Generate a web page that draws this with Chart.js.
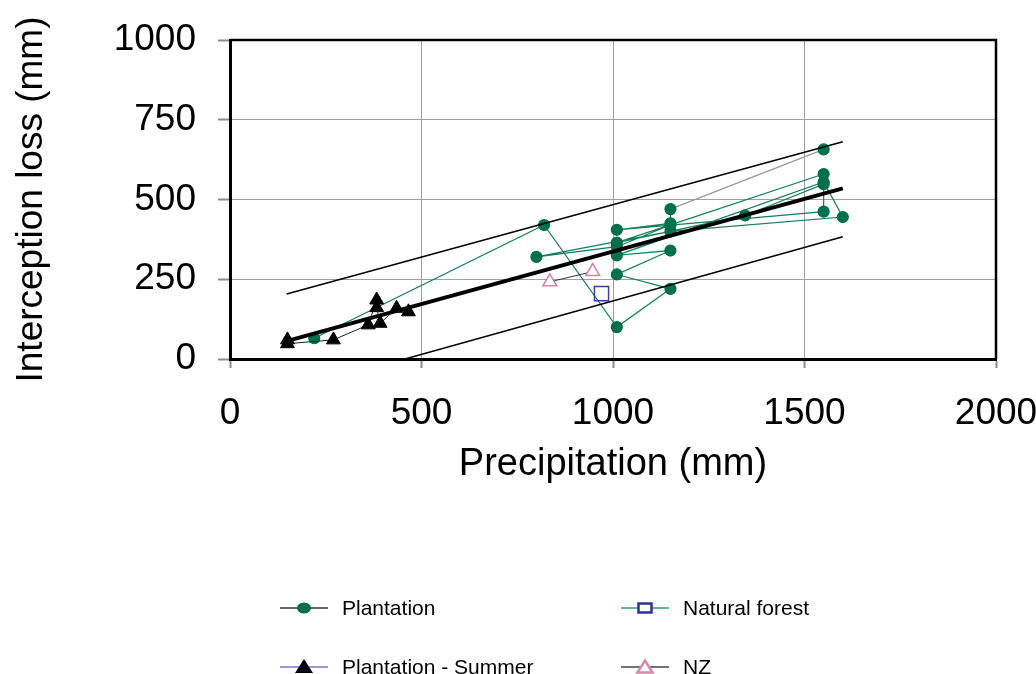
<!DOCTYPE html>
<html>
<head>
<meta charset="utf-8">
<script src="https://cdn.jsdelivr.net/npm/chart.js@4.4.1/dist/chart.umd.min.js"></script>
<style>
    body { margin: 0; background: #fff; font-family: 'Liberation Sans', Arial, sans-serif; }
    #wrap { position: relative; width: 1036px; height: 674px; }
    .item { position: absolute; display: flex; align-items: center; font-size: 21px; color: #000; white-space: nowrap; }
    .item svg { margin-right: 12px; }
</style>
</head>
<body>
<div id="wrap">
    <canvas id="myChart" width="1036" height="674"></canvas>
    <div id="legend"></div>
</div>
<script>
// precipitation (mm) vs interception loss (mm)
const plantationX = [220, 820, 1010, 1150, 1010, 1150, 1010, 1550, 1600, 1150, 800, 1010, 1150, 1550, 1010, 1345, 1550, 1550, 1010, 1150, 1150, 1550];
const plantationY = [65, 420, 100, 220, 265, 340, 325, 555, 445, 400, 320, 352, 420, 580, 365, 450, 548, 462, 405, 425, 470, 657];

const summerX = [150, 150, 270, 361, 383, 383, 392, 435, 466];
const summerY = [60, 48, 60, 107, 185, 161, 112, 159, 148];

const naturalX = [970];
const naturalY = [205];

const nzX = [835, 947];
const nzY = [242, 274];

// regression line and its band
const fitX = [150, 1600];
const fitY = [57, 535];
const upperX = [148, 1600];
const upperY = [204, 681];
const lowerX = [457, 1600];
const lowerY = [0, 383];

const seriesNames = ['Plantation', 'Natural forest', 'Plantation - Summer', 'NZ'];

const xTicks = [0, 500, 1000, 1500, 2000];
const yTicks = [0, 250, 500, 750, 1000];

function toPoints(xs, ys) {
    return xs.map((x, i) => ({ x: x, y: ys[i] }));
}

const FONT = "'Liberation Sans', Arial, sans-serif";

// black frame on top and right of the plot area
const framePlugin = {
    id: 'frame',
    beforeDatasetsDraw(chart) {
        const { ctx, chartArea: a } = chart;
        ctx.save();
        ctx.strokeStyle = '#000';
        ctx.lineWidth = 2.5;
        ctx.beginPath();
        ctx.moveTo(a.left, a.top);
        ctx.lineTo(a.right, a.top);
        ctx.lineTo(a.right, a.bottom);
        ctx.stroke();
        ctx.restore();
    },
};

const lastIdx = plantationX.length - 1;

const ctx = document.getElementById('myChart').getContext('2d');
new Chart(ctx, {
    type: 'scatter',
    data: {
        datasets: [
            {
                label: seriesNames[2],
                data: toPoints(summerX, summerY),
                showLine: true,
                borderColor: '#222',
                borderWidth: 1,
                pointStyle: 'triangle',
                pointRadius: 8,
                pointBackgroundColor: '#000',
                pointBorderColor: '#000',
            },
            {
                label: 'fit',
                data: toPoints(fitX, fitY),
                showLine: true,
                borderColor: '#000',
                borderWidth: 4,
                pointRadius: 0,
            },
            {
                label: 'upper',
                data: toPoints(upperX, upperY),
                showLine: true,
                borderColor: '#000',
                borderWidth: 1.5,
                pointRadius: 0,
            },
            {
                label: 'lower',
                data: toPoints(lowerX, lowerY),
                showLine: true,
                borderColor: '#000',
                borderWidth: 1.5,
                pointRadius: 0,
            },
            {
                label: seriesNames[3],
                data: toPoints(nzX, nzY),
                showLine: true,
                borderColor: '#333',
                borderWidth: 1,
                pointStyle: 'triangle',
                pointRadius: 8,
                pointBackgroundColor: '#fff',
                pointBorderColor: '#d9849f',
                pointBorderWidth: 1.5,
            },
            {
                label: seriesNames[1],
                data: toPoints(naturalX, naturalY),
                showLine: false,
                pointStyle: 'rect',
                pointRadius: 10,
                pointBackgroundColor: 'rgba(255,255,255,0)',
                pointBorderColor: '#3b3fa0',
                pointBorderWidth: 1.5,
            },
            {
                label: seriesNames[0],
                data: toPoints(plantationX, plantationY),
                showLine: true,
                borderColor: '#12805a',
                borderWidth: 1.2,
                segment: {
                    borderColor: (c) => (c.p1DataIndex === lastIdx ? '#999' : undefined),
                },
                pointStyle: 'circle',
                pointRadius: 5.5,
                pointBackgroundColor: '#00704a',
                pointBorderColor: '#00704a',
            },
        ],
    },
    options: {
        responsive: false,
        animation: false,
        layout: { padding: { top: 40, right: 40, left: 0, bottom: 185 } },
        plugins: {
            legend: { display: false },
            tooltip: { enabled: false },
        },
        scales: {
            x: {
                type: 'linear',
                min: 0,
                max: 2000,
                afterBuildTicks: (scale) => { scale.ticks = xTicks.map((v) => ({ value: v })); },
                afterFit: (scale) => { scale.paddingLeft = 0; scale.paddingRight = 0; },
                grid: { color: '#a0a0a0', lineWidth: 1, tickLength: 9, tickColor: '#8c8c8c', tickWidth: 2 },
                border: { color: '#000', width: 3 },
                ticks: {
                    color: '#000',
                    padding: 24,
                    maxRotation: 0,
                    font: { family: FONT, size: 37 },
                    callback: (v) => String(v),
                },
                title: {
                    display: true,
                    text: 'Precipitation (mm)',
                    color: '#000',
                    font: { family: FONT, size: 38 },
                    padding: { top: -19, bottom: 2 },
                },
            },
            y: {
                type: 'linear',
                min: 0,
                max: 1000,
                afterBuildTicks: (scale) => { scale.ticks = yTicks.map((v) => ({ value: v })); },
                afterFit: (scale) => { scale.width = 230; scale.paddingTop = 0; scale.paddingBottom = 0; },
                grid: { color: '#a0a0a0', lineWidth: 1, tickLength: 12, tickColor: '#8c8c8c', tickWidth: 2 },
                border: { color: '#000', width: 3 },
                ticks: {
                    color: '#000',
                    padding: 22,
                    font: { family: FONT, size: 37 },
                    callback: (v) => String(v),
                },
                title: {
                    display: true,
                    text: 'Interception loss (mm)',
                    color: '#000',
                    font: { family: FONT, size: 37 },
                    padding: { top: 10, bottom: 0 },
                },
            },
        },
    },
    plugins: [framePlugin],
});

// legend below the chart
const legendMarks = [
    '<line x1="2" y1="12" x2="50" y2="12" stroke="#333" stroke-width="1.5"/><ellipse cx="26" cy="12" rx="7" ry="5.5" fill="#00704a"/>',
    '<line x1="2" y1="12" x2="50" y2="12" stroke="#3a9a7a" stroke-width="1.5"/><rect x="19.5" y="7.5" width="13" height="9" fill="#fff" stroke="#2e2e9a" stroke-width="2.5"/>',
    '<line x1="2" y1="12" x2="50" y2="12" stroke="#7777cc" stroke-width="1.5"/><polygon points="26,4 35,18 17,18" fill="#000"/>',
    '<line x1="2" y1="12" x2="50" y2="12" stroke="#444" stroke-width="1.5"/><polygon points="26,5.5 33.5,17.5 18.5,17.5" fill="#fff" stroke="#d68aa8" stroke-width="2.5"/>',
];
const legendPos = [[278, 608], [619, 608], [278, 667], [619, 667]];
const legend = document.getElementById('legend');
seriesNames.forEach((name, i) => {
    const div = document.createElement('div');
    div.className = 'item';
    div.style.left = legendPos[i][0] + 'px';
    div.style.top = (legendPos[i][1] - 12) + 'px';
    div.innerHTML = '<svg width="52" height="24">' + legendMarks[i] + '</svg><span>' + name + '</span>';
    legend.appendChild(div);
});
</script>
</body>
</html>
